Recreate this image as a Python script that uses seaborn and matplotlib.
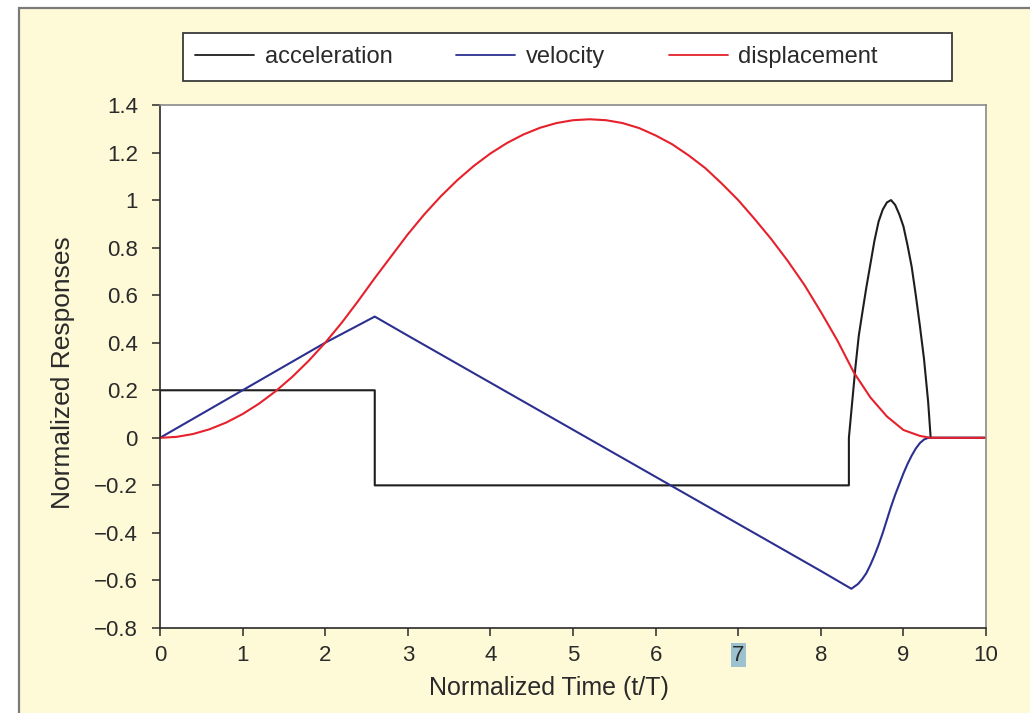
import matplotlib
matplotlib.use("Agg")
import matplotlib.pyplot as plt
import seaborn as sns
from matplotlib.patches import Rectangle

# ---- data ----
acc_t = [0, 0, 2.6, 2.6, 8.34, 8.34, 8.38, 8.42, 8.46, 8.5, 8.55, 8.6, 8.65, 8.7, 8.75, 8.8,
         8.85, 8.9, 8.95, 9.0, 9.05, 9.1, 9.15, 9.2, 9.25, 9.3, 9.33, 10]
acc_v = [0, 0.2, 0.2, -0.2, -0.2, 0.0, 0.15, 0.3, 0.43, 0.52, 0.63, 0.73, 0.83, 0.91, 0.96,
         0.99, 1.0, 0.98, 0.94, 0.89, 0.81, 0.72, 0.6, 0.47, 0.33, 0.15, 0.0, 0.0]

vel_t = [0, 0.5, 1, 1.5, 2, 2.6, 3, 4, 5, 6, 7, 8, 8.37, 8.45, 8.5, 8.55, 8.6, 8.65, 8.7, 8.75,
         8.8, 8.85, 8.9, 8.95, 9.0, 9.05, 9.1, 9.15, 9.2, 9.25, 9.3, 10]
vel_v = [0, 0.1, 0.2, 0.3, 0.4, 0.51, 0.43, 0.232, 0.034, -0.164, -0.362, -0.56, -0.635,
         -0.615, -0.595, -0.57, -0.535, -0.495, -0.45, -0.40, -0.345, -0.29, -0.24, -0.195,
         -0.15, -0.11, -0.075, -0.045, -0.022, -0.007, 0, 0]

disp_t = [0, 0.2, 0.4, 0.6, 0.8, 1.0, 1.2, 1.4, 1.6, 1.8, 2.0, 2.2, 2.4, 2.6, 2.8, 3.0, 3.2,
          3.4, 3.6, 3.8, 4.0, 4.2, 4.4, 4.6, 4.8, 5.0, 5.2, 5.4, 5.6, 5.8, 6.0, 6.2, 6.4, 6.6,
          6.8, 7.0, 7.2, 7.4, 7.6, 7.8, 8.0, 8.2, 8.4, 8.6, 8.8, 9.0, 9.2, 9.33, 10]
disp_v = [0, 0.004, 0.016, 0.036, 0.064, 0.1, 0.144, 0.196, 0.256, 0.324, 0.4, 0.484, 0.576,
          0.672, 0.764, 0.856, 0.94, 1.016, 1.084, 1.144, 1.196, 1.24, 1.276, 1.304, 1.324,
          1.336, 1.34, 1.336, 1.324, 1.303, 1.272, 1.235, 1.188, 1.135, 1.07, 1.0, 0.92,
          0.836, 0.744, 0.644, 0.53, 0.41, 0.275, 0.17, 0.09, 0.033, 0.008, 0, 0]

series_names = ["acceleration", "velocity", "displacement"]
x_ticks = [0, 1, 2, 3, 4, 5, 6, 7, 8, 9, 10]
x_tick_labels = ["0", "1", "2", "3", "4", "5", "6", "7", "8", "9", "10"]
y_ticks = [-0.8, -0.6, -0.4, -0.2, 0, 0.2, 0.4, 0.6, 0.8, 1.0, 1.2, 1.4]
y_tick_labels = ["\u22120.8", "\u22120.6", "\u22120.4", "\u22120.2", "0", "0.2", "0.4",
                 "0.6", "0.8", "1", "1.2", "1.4"]
x_label = "Normalized Time (t/T)"
y_label = "Normalized Responses"

# ---- style ----
sns.set_style("ticks")
plt.rcParams["font.family"] = ["Liberation Sans", "DejaVu Sans"]

W, H = 1030, 713
fig = plt.figure(figsize=(W / 100, H / 100), dpi=100)
fig.patch.set_facecolor("white")

# yellow panel with grey border
panel = Rectangle((19 / W, -0.02), 1.05, 1 - 8 / H + 0.02, transform=fig.transFigure,
                  facecolor="#FEFAD8", edgecolor="#7a7a7a", linewidth=1.6, zorder=-10)
fig.patches.append(panel)

ax = fig.add_axes([160 / W, 1 - 628 / H, (986 - 160) / W, (628 - 105) / H])
ax.set_zorder(0)
ax.set_facecolor("white")

lw = 1.5
sns.lineplot(x=acc_t, y=acc_v, ax=ax, color="#1e1e1e", lw=lw, sort=False, estimator=None,
             label=series_names[0])
sns.lineplot(x=vel_t, y=vel_v, ax=ax, color="#2b3090", lw=lw, sort=False, estimator=None,
             label=series_names[1])
sns.lineplot(x=disp_t, y=disp_v, ax=ax, color="#e6212b", lw=lw, sort=False, estimator=None,
             label=series_names[2])

ax.set_xlim(0, 10)
ax.set_ylim(-0.8, 1.4)
ax.set_xticks(x_ticks)
ax.set_xticklabels(x_tick_labels)
ax.set_yticks(y_ticks)
ax.set_yticklabels(y_tick_labels)

for s in ["left", "bottom"]:
    ax.spines[s].set_color("#2a2a2a")
    ax.spines[s].set_linewidth(1.2)
for s in ["top", "right"]:
    ax.spines[s].set_visible(True)
    ax.spines[s].set_color("#8a8a8a")
    ax.spines[s].set_linewidth(1.2)

ax.tick_params(axis="both", direction="out", length=6, width=1.1, color="#2a2a2a",
               labelsize=16, labelcolor="#2a2a2a")
ax.tick_params(axis="y", pad=10)
ax.tick_params(axis="x", pad=6)

for lab in ax.get_xticklabels():
    if lab.get_text() == "7":
        lab.set_bbox(dict(facecolor="#9cc2cf", edgecolor="none", pad=1.0))

ax.set_xlabel(x_label, fontsize=18, color="#2a2a2a")
ax.set_ylabel(y_label, fontsize=19, color="#2a2a2a")
ax.xaxis.set_label_coords((549 - 160) / 826, (628 - 676) / 523)
ax.yaxis.set_label_coords((75 - 160) / 826, (628 - 373) / 523)

# legend
handles, labels = ax.get_legend_handles_labels()
if ax.get_legend() is not None:
    ax.get_legend().remove()

box = Rectangle((183 / W, 1 - 81 / H), (952 - 183) / W, 48 / H, transform=fig.transFigure,
                facecolor="white", edgecolor="#3a3a3a", linewidth=1.3, zorder=1)
fig.patches.append(box)
leg = fig.legend(handles, labels, loc="center left", bbox_to_anchor=(195 / W, 1 - 57 / H),
                 ncol=3, frameon=False, fontsize=17, handlelength=2.5, handletextpad=0.45,
                 columnspacing=2.7, borderaxespad=0, borderpad=0)
leg.set_zorder(5)
for t in leg.get_texts():
    t.set_color("#2a2a2a")
for h in leg.legend_handles:
    h.set_linewidth(1.3)

fig.savefig("out.png", dpi=100, facecolor=fig.get_facecolor())
